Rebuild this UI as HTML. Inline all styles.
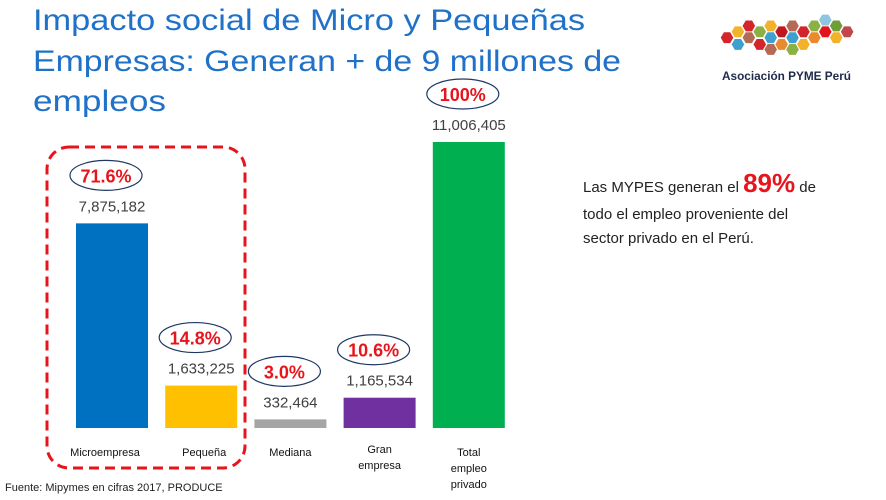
<!DOCTYPE html>
<html><head><meta charset="utf-8"><style>
html,body{margin:0;padding:0;background:#fff;}
svg{display:block;font-family:"Liberation Sans",sans-serif;}
</style></head><body>
<svg id="c" width="886" height="500" viewBox="0 0 886 500">
<g fill="#1F72C8" font-size="30">
<text x="33" y="30" textLength="552" lengthAdjust="spacingAndGlyphs">Impacto social de Micro y Pequeñas</text>
<text x="33" y="71" textLength="588" lengthAdjust="spacingAndGlyphs">Empresas: Generan + de 9 millones de</text>
<text x="33" y="111" textLength="133" lengthAdjust="spacingAndGlyphs">empleos</text>
</g>
<g id="logo" transform="translate(727,36) scale(0.84) translate(-727,-36)"></g>
<text x="722" y="80" font-size="12" font-weight="bold" fill="#1d2a4a" textLength="129" lengthAdjust="spacingAndGlyphs">Asociación PYME Perú</text>
<rect x="47" y="147" width="198" height="321" rx="22" fill="none" stroke="#E8141C" stroke-width="3" stroke-dasharray="10,6"/>
<g id="bars"></g>
<g font-size="15" fill="#222">
<text x="583" y="192">Las MYPES generan el <tspan fill="#E8141C" font-weight="bold" font-size="26">89%</tspan> de</text>
<text x="583" y="219">todo el empleo proveniente del</text>
<text x="583" y="243">sector privado en el Perú.</text>
</g>
<text x="5" y="491" font-size="11" fill="#222">Fuente: Mipymes en cifras 2017, PRODUCE</text>
</svg>
<script>
const categories=[["Microempresa"],["Pequeña"],["Mediana"],["Gran","empresa"],["Total","empleo","privado"]];
const values=[7875182,1633225,332464,1165534,11006405];
const valueLabels=["7,875,182","1,633,225","332,464","1,165,534","11,006,405"];
const percents=["71.6%","14.8%","3.0%","10.6%","100%"];
const colors=["#0070C0","#FFC000","#A5A5A5","#7030A0","#00B050"];
const NS="http://www.w3.org/2000/svg";
const base=428,maxH=286,maxV=11006405;
const y=v=>base-v/maxV*maxH;
const xc=i=>112+i*89.2;
const g=document.getElementById('bars');
function mk(t,a,p){const e=document.createElementNS(NS,t);for(const k in a)e.setAttribute(k,a[k]);(p||g).appendChild(e);return e;}
values.forEach((v,i)=>{
 const top=y(v),cx=xc(i);
 const r=mk('rect',{x:cx-36,y:top,width:72,height:base-top,fill:colors[i]});
 
 
 const t=mk('text',{x:cx,y:top-12,'text-anchor':'middle','font-size':15,fill:'#404040'});t.textContent=valueLabels[i];
 
 
 const ex=cx-6;
 const el=mk('ellipse',{cx:ex,cy:top-48,rx:36,ry:15,fill:'none',stroke:'#1F3864','stroke-width':1.2});
 
 
 const p=mk('text',{x:ex,y:top-41,'text-anchor':'middle','font-size':18,'font-weight':'bold',fill:'#E8141C'});p.textContent=percents[i];
 
 
 const lines=categories[i];
 lines.forEach((s,j)=>{
  const c=mk('text',{x:cx-(i==0?7:(i==1?-3:0)),y:(lines.length>1&&i==3?453:456)+j*16,'text-anchor':'middle','font-size':11,fill:'#111'});c.textContent=s;
  
  
 });
});
const L=document.getElementById('logo');
const hx=[[727,38,"#d3262b"],[740,31,"#f2b22a"],[740,46,"#3ea0cf"],[753,24,"#d3262b"],[753,38,"#b56a56"],[766,31,"#8bb043"],[766,46,"#d3262b"],[779,24,"#f2b22a"],[779,38,"#3ea0cf"],[779,52,"#b56a56"],[792,31,"#c0171e"],[792,46,"#e98a2c"],[805,24,"#b56a56"],[805,38,"#3ea0cf"],[805,52,"#8bb043"],[818,31,"#d3262b"],[818,46,"#f2b22a"],[831,24,"#8bb043"],[831,38,"#e98a2c"],[844,17,"#8ec5e0"],[844,31,"#e3141d"],[857,24,"#6f9d3a"],[857,38,"#f2b22a"],[870,31,"#c0474c"]];
hx.forEach(h=>{const [x,yy,c]=h;const r=7.5;let pts=[];for(let k=0;k<6;k++){const a=Math.PI/3*k;pts.push((x+r*Math.cos(a)).toFixed(1)+','+(yy+r*Math.sin(a)).toFixed(1));}
 const e=mk('polygon',{points:pts.join(' '),fill:c},L);
 
 
});
</script>
</body></html>
